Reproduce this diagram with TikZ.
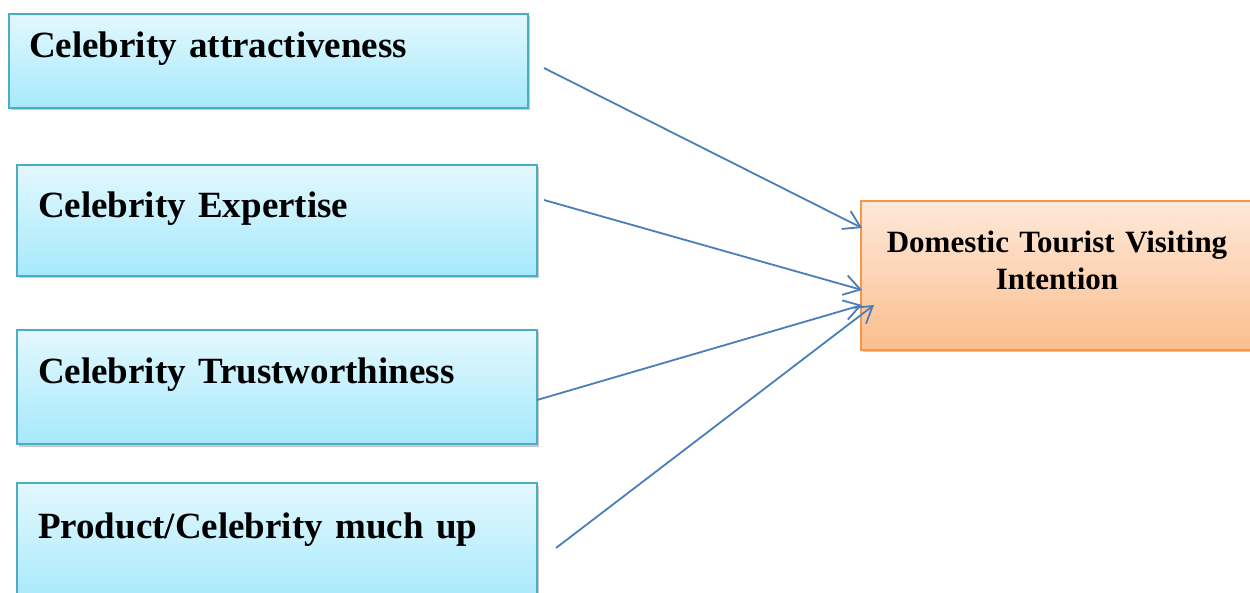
\documentclass[tikz,border=0pt]{standalone}
\usepackage{fontspec}
\setmainfont{Liberation Serif}
\usetikzlibrary{arrows.meta,shadows}
\definecolor{bluetop}{HTML}{E3F8FE}
\definecolor{bluebot}{HTML}{A6E9FC}
\definecolor{blueline}{HTML}{4BACC6}
\definecolor{orgtop}{HTML}{FEE9DA}
\definecolor{orgbot}{HTML}{FBBE8E}
\definecolor{orgline}{HTML}{F79646}
\definecolor{arrowblue}{HTML}{4A7EBB}
\begin{document}
\begin{tikzpicture}[x=1pt,y=-1pt,
  box/.style={draw=blueline,line width=2pt,top color=bluetop,bottom color=bluebot,
    anchor=north west,inner ysep=0pt,align=left,
    font=\fontsize{37}{44}\selectfont\bfseries,
    drop shadow={shadow xshift=1.5pt,shadow yshift=-2.5pt,opacity=0.3,fill=black!70}},
  target/.style={draw=orgline,line width=2pt,top color=orgtop,bottom color=orgbot,
    anchor=north west,inner ysep=0pt,inner xsep=0pt,align=center,
    font=\fontsize{31}{37}\selectfont\bfseries,
    drop shadow={shadow xshift=1.5pt,shadow yshift=-2.5pt,opacity=0.3,fill=black!70}},
  link/.style={draw=arrowblue,line width=1.8pt,-{Straight Barb[length=16pt,width=20pt,line width=1.8pt]}}]
\useasboundingbox (0,0) rectangle (1250,593);
\node[box,inner xsep=20pt,text width=479pt,text height=44pt,text depth=50pt] (b1) at (8,13) {Celebrity attractiveness};
\node[box,inner xsep=21pt,text width=478pt,text height=53pt,text depth=58pt] (b2) at (16,164) {Celebrity\,\,Expertise};
\node[box,inner xsep=21pt,text width=478pt,text height=54pt,text depth=60pt] (b3) at (16,329) {Celebrity Trustworthiness};
\node[box,inner xsep=21pt,text width=478pt,text height=55pt,text depth=65pt] (b4) at (16,482) {Product/Celebrity much up};
\node[target,text width=392pt,text height=52pt,text depth=97pt] (dt) at (860,200) {Domestic Tourist Visiting\\Intention};
\coordinate (s1) at (544,68);
\coordinate (s2) at (544,200);
\coordinate (s3) at (537,400);
\coordinate (s4) at (556,548);
\coordinate (t1) at (862,228);
\coordinate (t2) at (862,290);
\coordinate (t3) at (862,305);
\coordinate (t4) at (874,305);
\draw[link] (s1) -- (t1);
\draw[link] (s2) -- (t2);
\draw[link] (s3) -- (t3);
\draw[link] (s4) -- (t4);
\end{tikzpicture}
\end{document}
